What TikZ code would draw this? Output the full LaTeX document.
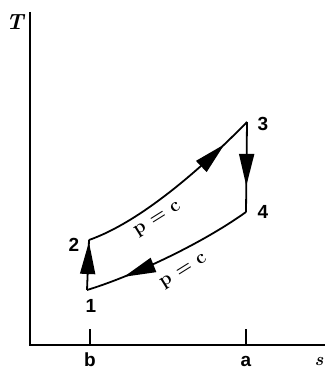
\documentclass[tikz,border=0pt]{standalone}
\usepackage{fontspec}
\setsansfont{Liberation Sans}
\usetikzlibrary{arrows.meta,decorations.markings}
\tikzset{
  curve/.style={line width=1.8pt, line join=miter},
  axis/.style={line width=1.4pt},
  lbl/.style={font=\sffamily\bfseries\fontsize{19}{19}\selectfont, inner sep=0pt},
  plbl/.style={font=\bfseries\fontsize{19}{19}\selectfont, inner sep=0pt, rotate=32},
  midarrow/.style={postaction={decorate, decoration={markings,
     mark=at position #1 with {\arrow{Triangle[length=32pt,width=15pt]}}}}}
}
\begin{document}
\begin{tikzpicture}[x=1pt,y=-1pt]
\useasboundingbox (0,0) rectangle (324,371);
% axes
\coordinate (O) at (30,345);
\coordinate (Ytop) at (30,12);
\coordinate (Xend) at (326,345);
\draw[axis] (Ytop) -- (O) -- (Xend);
\coordinate (tb) at (90,345); \coordinate (tbt) at (90,329);
\coordinate (ta) at (246,345); \coordinate (tat) at (246,329);
\draw[axis] (tb) -- (tbt);
\draw[axis] (ta) -- (tat);
\node[font=\bfseries\itshape\fontsize{22}{22}\selectfont, inner sep=0pt] (T) at (15,22) {T};
\node[lbl] (b) at (90,360) {b};
\node[lbl] (a) at (246,361) {a};
\node[font=\bfseries\itshape\fontsize{18}{18}\selectfont, inner sep=0pt] (s) at (319,361) {s};
% states
\coordinate (p1) at (87,290);
\coordinate (p2) at (89,240);
\coordinate (p3) at (247,122);
\coordinate (p4) at (246,212);
\draw[curve, midarrow=0.96] (p1) -- (p2);
\draw[curve, midarrow=0.84] (p2) .. controls (140,222) and (200,170) .. (p3);
\draw[curve, midarrow=0.71] (p3) -- (p4);
\draw[curve, midarrow=0.78] (p4) .. controls (200,245) and (130,277) .. (p1);
% labels
\node[lbl] (n1) at (91,306) {1};
\node[lbl] (n2) at (74,245) {2};
\node[lbl] (n3) at (263,124) {3};
\node[lbl] (n4) at (263,212) {4};
\node[plbl] (pc1) at (158,220) {p = c};
\node[plbl] (pc2) at (184,272) {p = c};
\end{tikzpicture}
\end{document}
